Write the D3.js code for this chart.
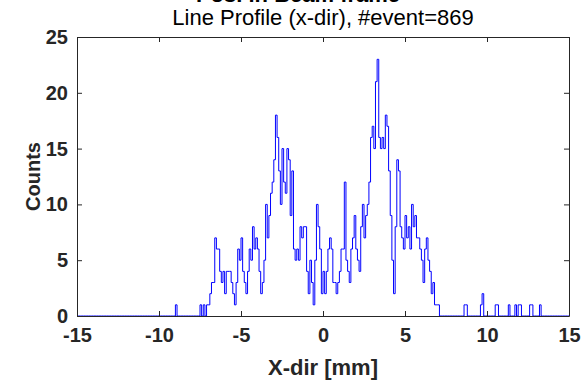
<!DOCTYPE html>
<html>
<head>
<meta charset="utf-8">
<script src="https://cdn.jsdelivr.net/npm/d3@7"></script>
<style>
  html, body { margin: 0; padding: 0; background: #fff; }
  svg { display: block; font-family: "Liberation Sans", Arial, sans-serif; }
</style>
</head>
<body>
<svg id="chart" width="585" height="380"></svg>
<script>
// Histogram of hit positions along x, 0.1 mm bins
const binWidth = 0.1;
const coreStart = -7.6;          // left edge of the first core bin [mm]
const coreCounts = [
  0, 1, 0, 1, 0, 1, 1, 2, 3, 3,          // -7.6 .. -6.7
  7, 6, 6, 4, 3, 4, 2, 4, 4, 4,          // -6.6 .. -5.7
  3, 2, 1, 3, 6, 5, 7, 4, 3, 2,          // -5.6 .. -4.7
  4, 6, 5, 8, 6, 7, 6, 4, 2, 3,          // -4.6 .. -3.7
  5, 10, 7, 9, 11, 12, 14, 18, 16, 13,   // -3.6 .. -2.7
  10, 15, 12, 11, 15, 14, 9, 13, 6, 5,   // -2.6 .. -1.7
  6, 5, 8, 7, 8, 8, 4, 2, 5, 3,          // -1.6 .. -0.7
  1, 5, 10, 8, 6, 2, 4, 2, 4, 6,         // -0.6 .. 0.3
  7, 6, 3, 3, 2, 3, 4, 6, 6, 12,         // 0.4 .. 1.3
  5, 4, 3, 6, 7, 9, 6, 5, 4, 8,          // 1.4 .. 2.3
  10, 7, 9, 10, 12, 16, 17, 15, 21, 23,  // 2.4 .. 3.3
  16, 15, 16, 15, 18, 17, 13, 9, 5, 2,   // 3.4 .. 4.3
  8, 14, 13, 8, 7, 6, 9, 7, 8, 6,        // 4.4 .. 5.3
  10, 8, 9, 7, 7, 6, 5, 3, 6, 7,         // 5.4 .. 6.3
  5, 4, 2, 3, 1, 1, 1, 0                 // 6.4 .. 7.1
];
// Isolated events outside the core region: bin left edge [mm] and count
const tailX = [-9.0, 8.6, 8.7, 9.6, 9.7, 10.5, 10.6, 11.3, 11.7, 11.9, 12.0, 12.6, 12.7, 13.2];
const tailN = [1, 1, 1, 1, 2, 1, 1, 1, 1, 1, 1, 1, 1, 1];

const xTicks = [-15, -10, -5, 0, 5, 10, 15];
const yTicks = [0, 5, 10, 15, 20, 25];
const xDomain = [-15, 15];
const yDomain = [0, 25];

// Build the full bin grid from -15 to 15
const nBins = Math.round((xDomain[1] - xDomain[0]) / binWidth);
const counts = new Array(nBins).fill(0);
const binIndex = x => Math.round((x - xDomain[0]) / binWidth);
coreCounts.forEach((c, i) => { counts[binIndex(coreStart) + i] = c; });
tailX.forEach((x, i) => { counts[binIndex(x)] = tailN[i]; });
const steps = counts.map((c, i) => ({ x: xDomain[0] + i * binWidth, y: c }));
steps.push({ x: xDomain[1], y: counts[nBins - 1] });

const svg = d3.select("#chart");
const m = { left: 77, right: 569, top: 37, bottom: 316 };
const ink = "#262626";

const x = d3.scaleLinear().domain(xDomain).range([m.left, m.right]);
const y = d3.scaleLinear().domain(yDomain).range([m.bottom, m.top]);

// Stairs trace
svg.append("path")
  .datum(steps)
  .attr("fill", "none")
  .attr("stroke", "#0000ff")
  .attr("stroke-width", 1)
  .attr("d", d3.line().x(d => x(d.x)).y(d => y(d.y)).curve(d3.curveStepAfter));

// Axes with inward ticks, boxed
const tickLen = 5;
const plain = d => String(d);   // hyphen-minus, not U+2212
const styleAxis = g => {
  g.select(".domain").attr("stroke", ink);
  g.selectAll(".tick line").attr("stroke", ink);
  g.selectAll(".tick text")
    .attr("fill", ink)
    .attr("font-size", 20)
    .attr("font-weight", "bold");
};

svg.append("g")
  .attr("transform", `translate(0,${m.bottom})`)
  .call(d3.axisBottom(x).tickValues(xTicks).tickFormat(plain)
    .tickSizeInner(-tickLen).tickSizeOuter(0).tickPadding(12))
  .call(styleAxis);

svg.append("g")
  .attr("transform", `translate(0,${m.top})`)
  .call(d3.axisTop(x).tickValues(xTicks).tickSizeInner(-tickLen).tickSizeOuter(0).tickFormat(""))
  .call(styleAxis);

svg.append("g")
  .attr("transform", `translate(${m.left},0)`)
  .call(d3.axisLeft(y).tickValues(yTicks).tickFormat(plain)
    .tickSizeInner(-tickLen).tickSizeOuter(0).tickPadding(9))
  .call(styleAxis);

svg.append("g")
  .attr("transform", `translate(${m.right},0)`)
  .call(d3.axisRight(y).tickValues(yTicks).tickSizeInner(-tickLen).tickSizeOuter(0).tickFormat(""))
  .call(styleAxis);

// Titles and labels
const cx = (m.left + m.right) / 2;
svg.append("text")
  .attr("x", cx - 25).attr("y", 2)
  .attr("text-anchor", "middle")
  .attr("font-size", 22).attr("font-weight", "bold").attr("fill", "#000")
  .text("Pos. in Beam frame");

svg.append("text")
  .attr("x", cx).attr("y", 25)
  .attr("text-anchor", "middle")
  .attr("font-size", 22).attr("fill", "#000")
  .text("Line Profile (x-dir), #event=869");

svg.append("text")
  .attr("x", cx).attr("y", 375)
  .attr("text-anchor", "middle")
  .attr("font-size", 22).attr("font-weight", "bold").attr("fill", ink)
  .text("X-dir [mm]");

svg.append("text")
  .attr("transform", `translate(40,${(m.top + m.bottom) / 2}) rotate(-90)`)
  .attr("text-anchor", "middle")
  .attr("font-size", 20).attr("font-weight", "bold").attr("fill", ink)
  .text("Counts");
</script>
</body>
</html>
